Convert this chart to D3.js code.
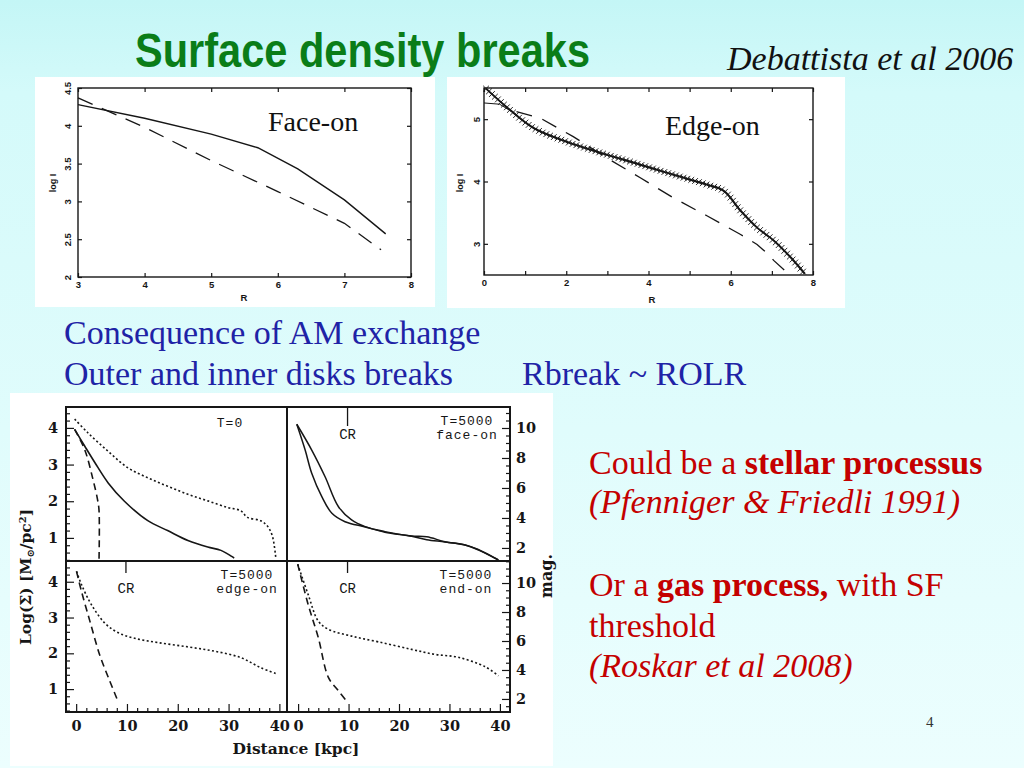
<!DOCTYPE html>
<html><head><meta charset="utf-8">
<script src="https://cdn.jsdelivr.net/npm/d3@7"></script>
<style>html,body{margin:0;padding:0;overflow:hidden;background:#e6fefe}</style>
</head><body><svg id="chart" width="1024" height="768"></svg>
<script>
// ---------- text content ----------
const titleText = "Surface density breaks";
const citeText = "Debattista et al 2006";
const blueLine1 = "Consequence of AM exchange";
const blueLine2 = "Outer and inner disks breaks";
const blueAside = "Rbreak ~ ROLR";

// ---------- Face-on panel (log I vs R) ----------
const faceTicksX = [3, 4, 5, 6, 7, 8];
const faceTicksY = [2, 2.5, 3, 3.5, 4, 4.5];
const faceSolidR = [3, 4, 5, 5.7, 6.3, 7, 7.62];
const faceSolidI = [4.28, 4.10, 3.89, 3.71, 3.43, 3.02, 2.57];
const faceDashR = [3, 4, 5, 6, 7, 7.55];
const faceDashI = [4.37, 3.98, 3.54, 3.13, 2.71, 2.36];

// ---------- Edge-on panel ----------
const edgeTicksX = [0, 1, 2, 3, 4, 5, 6, 7, 8];
const edgeLabelX = [0, 2, 4, 6, 8];
const edgeTicksY = [3, 4, 5];
const edgeCrossR = [0.05, 0.54, 1.2, 2.0, 2.74, 3.8, 4.6, 5.42, 5.83, 6.24, 6.64, 7.05, 7.46, 7.8];
const edgeCrossI = [5.49, 5.20, 4.86, 4.64, 4.48, 4.27, 4.11, 3.95, 3.85, 3.53, 3.26, 3.05, 2.78, 2.52];
const edgeThinR = [0, 0.38, 0.8];
const edgeThinI = [5.26, 5.24, 5.07];
const edgeDashR = [0.79, 1.36, 2.17, 2.98, 3.8, 4.6, 5.42, 6.24, 6.64, 6.9, 7.05, 7.4];
const edgeDashI = [5.12, 5.02, 4.72, 4.38, 4.06, 3.74, 3.45, 3.15, 2.99, 2.84, 2.73, 2.52];

// ---------- four-panel figure ----------
const logTicks = [1, 2, 3, 4];
const magTicks = [2, 4, 6, 8, 10];
const distTicks = [0, 10, 20, 30, 40];
// T=0 (log Sigma)
const t0SolidD = [-0.3, 1.7, 3.7, 6.3, 9.5, 14.1, 18, 22, 25.9, 28.5, 31.1];
const t0SolidV = [3.96, 3.5, 3.05, 2.5, 2.0, 1.47, 1.2, 0.93, 0.75, 0.66, 0.45];
const t0DashD = [-0.3, 1.7, 3.3, 4.2, 4.5, 4.5];
const t0DashV = [3.96, 3.4, 2.6, 2.05, 1.75, 0.4];
const t0DotD = [-0.3, 2.35, 6.3, 10.2, 14.1, 18, 22, 25.9, 29.8, 32.4, 33.7, 36.3, 37.6, 38.6, 39.3];
const t0DotV = [4.24, 3.86, 3.36, 2.91, 2.64, 2.41, 2.19, 2.01, 1.83, 1.74, 1.56, 1.47, 1.33, 1.06, 0.45];
// T=5000 face-on (mag)
const faceAD = [-0.26, 2.7, 5.35, 8.0, 10.6, 13.3, 17.2, 22.5, 25.5, 29.1, 33.1, 35.7, 39.7];
const faceAM = [10.25, 8.53, 6.75, 4.75, 3.87, 3.42, 3.09, 2.8, 2.74, 2.42, 2.2, 1.87, 1.2];
const faceBD = [-0.26, 1.4, 2.7, 4.7, 6.7, 9.3, 13.3, 17.2, 22.5, 25.5, 29.1, 33.1, 35.7, 39.7];
const faceBM = [10.25, 8.53, 6.98, 5.42, 4.31, 3.75, 3.4, 3.05, 2.78, 2.55, 2.4, 2.2, 1.9, 1.2];
// T=5000 edge-on (log Sigma)
const edgeDashD = [0.07, 1.05, 2.7, 4.6, 6.6, 8.2];
const edgeDashV = [4.29, 3.73, 2.9, 1.97, 1.23, 0.67];
const edgeDotD = [0.07, 1.05, 3.0, 5.6, 8.2, 11.5, 16.1, 22, 27.2, 32.4, 36.3, 39.6];
const edgeDotV = [4.29, 3.92, 3.36, 2.85, 2.58, 2.42, 2.30, 2.18, 2.06, 1.88, 1.60, 1.42];
// T=5000 end-on (log Sigma)
const endDashD = [-0.07, 2.0, 4.0, 6.0, 8.0, 9.6];
const endDashV = [4.49, 3.36, 2.44, 1.33, 0.95, 0.67];
const endDotD = [-0.07, 2.0, 4.0, 6.0, 10.6, 15.9, 22.5, 27.1, 31.7, 37, 39.7];
const endDotV = [4.49, 3.64, 2.9, 2.67, 2.48, 2.32, 2.11, 1.97, 1.89, 1.63, 1.37];
const crRadius = 9.8;

// ---------- drawing ----------
const svg = d3.select("#chart");
const SERIF = "'Liberation Serif','Times New Roman',Times,serif";
const SERIF_I = "'Liberation Serif'";
const SANS = "'Liberation Sans',Arial,Helvetica,sans-serif";
const BSERIF = "'DejaVu Serif',Georgia,serif";
const MONO = "'Liberation Mono','DejaVu Sans Mono',monospace";
const INK = "#161616";

const defs = svg.append("defs");
const grad = defs.append("linearGradient").attr("id", "bg").attr("x1", 0).attr("y1", 0).attr("x2", 0).attr("y2", 1);
grad.append("stop").attr("offset", "0%").attr("stop-color", "#c4f6f6");
grad.append("stop").attr("offset", "12%").attr("stop-color", "#d4fafa");
grad.append("stop").attr("offset", "100%").attr("stop-color", "#ecfefe");
svg.append("rect").attr("width", 1024).attr("height", 768).attr("fill", "url(#bg)");

// Title
svg.append("text").attr("x", 135).attr("y", 67).text(titleText)
  .attr("textLength", 455).attr("lengthAdjust", "spacingAndGlyphs")
  .style("font-family", "'Liberation Sans Narrow','Arial Narrow'," + SANS)
  .style("font-weight", "bold").style("font-size", "48px").attr("fill", "#0a7d18");
svg.append("text").attr("x", 727).attr("y", 70).text(citeText)
  .style("font-family", SERIF_I).style("font-style", "italic").style("font-size", "34px").attr("fill", "#111");

function styleAxis(a, font, size, weight) {
  a.select(".domain").remove();
  a.selectAll(".tick line").attr("stroke", INK).attr("stroke-width", 1.2);
  a.selectAll(".tick text").attr("fill", INK).style("font-family", font)
    .style("font-size", size + "px").style("font-weight", weight || "bold");
  return a;
}

function topPanel(c) {
  const g = svg.append("g");
  g.append("rect").attr("x", c.box[0]).attr("y", c.box[1]).attr("width", c.box[2]).attr("height", c.box[3]).attr("fill", "#fff");
  const x = d3.scaleLinear().domain(c.xDomain).range([c.f[0], c.f[1]]);
  const y = d3.scaleLinear().domain(c.yDomain).range([c.f[3], c.f[2]]);
  const add = (axis, tx, ty) => styleAxis(g.append("g").attr("transform", `translate(${tx},${ty})`).call(axis), SANS, 9.5);
  add(d3.axisBottom(x).tickValues(c.xTicks).tickSize(-4).tickPadding(4).tickFormat(d => c.xLabels.includes(d) ? d : ""), 0, c.f[3]);
  add(d3.axisTop(x).tickValues(c.xTicks).tickSize(-4).tickFormat(""), 0, c.f[2]);
  add(d3.axisRight(y).tickValues(c.yTicks).tickSize(-4).tickFormat(""), c.f[1], 0);
  const ya = add(d3.axisLeft(y).tickValues(c.yTicks).tickSize(-4).tickFormat(d => d), c.f[0], 0);
  ya.selectAll(".tick text").attr("x", 0).attr("y", 0).attr("dy", "0.35em").attr("text-anchor", "middle")
    .attr("transform", `translate(${c.yLabX - c.f[0]},0) rotate(-90)`);
  g.append("rect").attr("x", c.f[0]).attr("y", c.f[2]).attr("width", c.f[1] - c.f[0]).attr("height", c.f[3] - c.f[2])
    .attr("fill", "none").attr("stroke", INK).attr("stroke-width", 1.4);
  g.append("text").attr("transform", `translate(${c.logLab[0]},${c.logLab[1]}) rotate(-90)`).attr("text-anchor", "middle")
    .attr("dy", "0.35em").text("log I").style("font-family", SANS).style("font-weight", "bold").style("font-size", "9px").attr("fill", INK);
  g.append("text").attr("x", c.rLab[0]).attr("y", c.rLab[1]).attr("text-anchor", "middle").text("R")
    .style("font-family", SANS).style("font-weight", "bold").style("font-size", "9.5px").attr("fill", INK);
  g.append("text").attr("x", c.tag[0]).attr("y", c.tag[1]).text(c.tagText)
    .style("font-family", SERIF).style("font-size", "28px").attr("fill", "#111");
  const line = d3.line().x(d => x(d[0])).y(d => y(d[1]));
  return { g, x, y, line };
}

// Face-on
const fo = topPanel({ box: [35, 77, 400, 230], f: [78, 411, 88, 277], xDomain: [3, 8], yDomain: [2, 4.5],
  xTicks: faceTicksX, xLabels: faceTicksX, yTicks: faceTicksY, yLabX: 67.5, logLab: [52.5, 183], rLab: [244, 301],
  tag: [268, 131], tagText: "Face-on" });
fo.g.append("path").attr("d", fo.line(d3.zip(faceSolidR, faceSolidI))).attr("fill", "none").attr("stroke", INK).attr("stroke-width", 1.4);
fo.g.append("path").attr("d", fo.line(d3.zip(faceDashR, faceDashI))).attr("fill", "none").attr("stroke", INK)
  .attr("stroke-width", 1.3).attr("stroke-dasharray", "16,10");

// Edge-on
const eo = topPanel({ box: [447, 77, 398, 231], f: [484, 813, 88, 275], xDomain: [0, 8], yDomain: [2.5, 5.5],
  xTicks: edgeTicksX, xLabels: edgeLabelX, yTicks: edgeTicksY, yLabX: 476.5, logLab: [460, 183], rLab: [652, 303],
  tag: [665, 135], tagText: "Edge-on" });
eo.g.append("path").attr("d", eo.line(d3.zip(edgeDashR, edgeDashI))).attr("fill", "none").attr("stroke", INK)
  .attr("stroke-width", 1.3).attr("stroke-dasharray", "16,11");
eo.g.append("path").attr("d", eo.line(d3.zip(edgeThinR, edgeThinI))).attr("fill", "none").attr("stroke", INK).attr("stroke-width", 1);
const crossPath = eo.g.append("path").attr("d", eo.line.curve(d3.curveCatmullRom.alpha(0.5))(d3.zip(edgeCrossR, edgeCrossI)))
  .attr("fill", "none").attr("stroke", INK).attr("stroke-width", 2);
(function () {
  const node = crossPath.node(), L = node.getTotalLength(), marks = [];
  for (let s = 0; s <= L; s += 4) { const p = node.getPointAtLength(s); marks.push([p.x, p.y]); }
  eo.g.append("g").selectAll("path").data(marks).join("path")
    .attr("d", d => `M${d[0] - 2.9},${d[1] - 2.9}L${d[0] + 2.9},${d[1] + 2.9}M${d[0] - 2.9},${d[1] + 2.9}L${d[0] + 2.9},${d[1] - 2.9}`)
    .attr("stroke", INK).attr("stroke-width", 0.9);
})();

// Blue text
const BLUE = "#1f23a6";
svg.append("text").attr("x", 64).attr("y", 344).text(blueLine1).style("font-family", SERIF).style("font-size", "34px").attr("fill", BLUE);
svg.append("text").attr("x", 64).attr("y", 385).text(blueLine2).style("font-family", SERIF).style("font-size", "34px").attr("fill", BLUE);
svg.append("text").attr("x", 522).attr("y", 385).text(blueAside).style("font-family", SERIF).style("font-size", "34px").attr("fill", BLUE);

// Red text
const RED = "#c40000";
const red = svg.append("g").style("font-family", SERIF).style("font-size", "34px").attr("fill", RED);
const r1 = red.append("text").attr("x", 589).attr("y", 474);
r1.append("tspan").text("Could be a ");
r1.append("tspan").style("font-weight", "bold").text("stellar processus");
red.append("text").attr("x", 589).attr("y", 513).style("font-family", SERIF_I).style("font-style", "italic").text("(Pfenniger & Friedli 1991)");
const r3 = red.append("text").attr("x", 589).attr("y", 596);
r3.append("tspan").text("Or a ");
r3.append("tspan").style("font-weight", "bold").text("gas process,");
r3.append("tspan").text(" with SF");
red.append("text").attr("x", 589).attr("y", 637).text("threshold");
red.append("text").attr("x", 589).attr("y", 677).style("font-family", SERIF_I).style("font-style", "italic").text("(Roskar et al 2008)");

svg.append("text").attr("x", 926).attr("y", 727).text("4").style("font-family", SERIF).style("font-size", "15px").attr("fill", "#333");

// ---------- four-panel figure ----------
const B = svg.append("g");
B.append("rect").attr("x", 10).attr("y", 393).attr("width", 543).attr("height", 373).attr("fill", "#fff");
const X0 = 66, XM = 287, X1 = 510, Y0 = 407, YM = 561, Y1 = 712;
const xL = d3.scaleLinear().domain([-2, 41.5]).range([X0, XM]);
const xR = d3.scaleLinear().domain([-2.2, 42]).range([XM, X1]);
const yTop = d3.scaleLinear().domain([0.37, 4.57]).range([YM, Y0]);
const yBot = d3.scaleLinear().domain([0.36, 4.58]).range([Y1, YM]);
const magTop = d3.scaleLinear().domain([1.13, 11.4]).range([YM, Y0]);
const magBot = d3.scaleLinear().domain([1.1, 11.52]).range([Y1, YM]);

const inDom = s => v => v >= s.domain()[0] && v <= s.domain()[1];
function bAxis(axis, tx, ty) {
  return styleAxis(B.append("g").attr("transform", `translate(${tx},${ty})`).call(axis), BSERIF, 14.5);
}
[yTop, yBot].forEach(s => {
  const minor = d3.range(0.2, 4.8, 0.2).map(v => +v.toFixed(1)).filter(v => !logTicks.includes(v)).filter(inDom(s));
  bAxis(d3.axisLeft(s).tickValues(minor).tickSize(-4).tickFormat(""), X0, 0);
  bAxis(d3.axisLeft(s).tickValues(logTicks).tickSize(-8).tickPadding(8).tickFormat(d3.format("d")), X0, 0);
});
[magTop, magBot].forEach(s => {
  const minor = d3.range(1, 12, 0.5).filter(v => !magTicks.includes(v)).filter(inDom(s));
  bAxis(d3.axisRight(s).tickValues(minor).tickSize(-4).tickFormat(""), X1, 0);
  bAxis(d3.axisRight(s).tickValues(magTicks).tickSize(-8).tickPadding(6).tickFormat(d3.format("d")), X1, 0);
});
[xL, xR].forEach(s => {
  const minor = d3.range(0, 41, 2).filter(v => !distTicks.includes(v));
  bAxis(d3.axisBottom(s).tickValues(minor).tickSize(-4).tickFormat(""), 0, Y1);
  bAxis(d3.axisBottom(s).tickValues(distTicks).tickSize(-8).tickPadding(9).tickFormat(d3.format("d")), 0, Y1);
});

B.append("rect").attr("x", X0).attr("y", Y0).attr("width", X1 - X0).attr("height", Y1 - Y0)
  .attr("fill", "none").attr("stroke", INK).attr("stroke-width", 2);
B.append("line").attr("x1", XM).attr("x2", XM).attr("y1", Y0).attr("y2", Y1).attr("stroke", INK).attr("stroke-width", 2);
B.append("line").attr("x1", X0).attr("x2", X1).attr("y1", YM).attr("y2", YM).attr("stroke", INK).attr("stroke-width", 2);

const styles = { solid: null, dash: "7,4.5", dot: "2,2.4" };
function curve(xs, ys, dArr, vArr, kind, w) {
  const ln = d3.line().x(d => xs(d[0])).y(d => ys(d[1])).curve(d3.curveCatmullRom.alpha(0.5));
  B.append("path").attr("d", ln(d3.zip(dArr, vArr))).attr("fill", "none").attr("stroke", INK)
    .attr("stroke-width", w || 1.6).attr("stroke-dasharray", styles[kind]);
}
curve(xL, yTop, t0SolidD, t0SolidV, "solid");
curve(xL, yTop, t0DashD, t0DashV, "dash");
curve(xL, yTop, t0DotD, t0DotV, "dot");
curve(xR, magTop, faceAD, faceAM, "solid", 1.5);
curve(xR, magTop, faceBD, faceBM, "solid", 1.5);
curve(xL, yBot, edgeDashD, edgeDashV, "dash");
curve(xL, yBot, edgeDotD, edgeDotV, "dot");
curve(xR, yBot, endDashD, endDashV, "dash");
curve(xR, yBot, endDotD, endDotV, "dot");

// CR markers
function cr(xs, yStart, yEnd, labY) {
  B.append("line").attr("x1", xs(crRadius)).attr("x2", xs(crRadius)).attr("y1", yStart).attr("y2", yEnd).attr("stroke", INK).attr("stroke-width", 1.3);
  B.append("text").attr("x", xs(crRadius)).attr("y", labY).attr("text-anchor", "middle").text("CR")
    .style("font-family", MONO).style("font-size", "14px").attr("fill", INK);
}
cr(xR, Y0, 426, 439);
cr(xL, YM, 573, 593);
cr(xR, YM, 573, 593);

function tag(lines, cx, y0) {
  lines.forEach((t, i) => B.append("text").attr("x", cx).attr("y", y0 + i * 14).attr("text-anchor", "middle").text(t)
    .style("font-family", MONO).style("font-size", "13px").style("letter-spacing", "1px").attr("fill", INK));
}
tag(["T=0"], 230, 427);
tag(["T=5000", "face-on"], 467, 425);
tag(["T=5000", "edge-on"], 247, 579);
tag(["T=5000", "end-on"], 466, 579);

// Axis titles
const yl = B.append("text").attr("transform", "translate(31,577) rotate(-90)").attr("text-anchor", "middle")
  .style("font-family", BSERIF).style("font-weight", "bold").style("font-size", "15.5px").attr("fill", INK);
yl.append("tspan").text("Log(Σ)  [M");
yl.append("tspan").attr("baseline-shift", "-25%").style("font-size", "10px").text("⊙");
yl.append("tspan").text("/pc");
yl.append("tspan").attr("baseline-shift", "super").style("font-size", "10px").text("2");
yl.append("tspan").text("]");
B.append("text").attr("x", 296).attr("y", 754).attr("text-anchor", "middle").text("Distance [kpc]")
  .style("font-family", BSERIF).style("font-weight", "bold").style("font-size", "15.5px").attr("fill", INK);
B.append("text").attr("transform", "translate(546,576) rotate(-90)").attr("text-anchor", "middle").attr("dy", "0.35em")
  .text("mag.").style("font-family", BSERIF).style("font-weight", "bold").style("font-size", "16px").attr("fill", INK);
</script></body></html>
